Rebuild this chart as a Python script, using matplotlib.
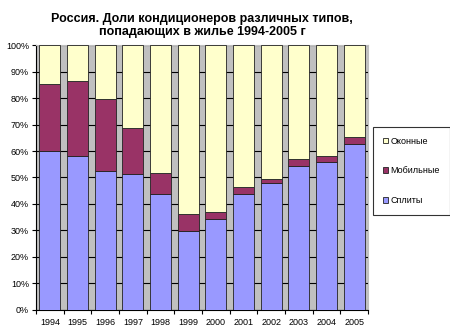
import numpy as np
import matplotlib
matplotlib.use('Agg')
import matplotlib.pyplot as plt
from matplotlib.ticker import PercentFormatter

# доли кондиционеров по годам, %
years = ['1994', '1995', '1996', '1997', '1998', '1999', '2000',
         '2001', '2002', '2003', '2004', '2005']
splits = [59.9, 58.2, 52.3, 51.2, 43.8, 29.9, 34.2, 43.7, 47.9, 54.5, 55.8, 62.7]
mobile = [25.5, 28.2, 27.5, 17.3, 7.9, 6.5, 2.6, 2.8, 1.7, 2.5, 2.4, 2.6]
window = [100 - s - m for s, m in zip(splits, mobile)]

plt.rcParams['font.family'] = ['Liberation Sans', 'DejaVu Sans']

fig = plt.figure(figsize=(4.5, 3.29), dpi=100)
ax = fig.add_axes([0.08, 0.058, 0.738, 0.805])
ax.set_facecolor('#C0C0C0')

x = np.arange(len(years))
w = 0.76
b1 = ax.bar(x, splits, w, color='#9999FF', edgecolor='#222222', linewidth=0.6,
            label='Сплиты', zorder=3)
b2 = ax.bar(x, mobile, w, bottom=splits, color='#993366', edgecolor='#222222',
            linewidth=0.6, label='Мобильные', zorder=3)
bottoms = [s + m for s, m in zip(splits, mobile)]
b3 = ax.bar(x, window, w, bottom=bottoms, color='#FFFFCC', edgecolor='#222222',
            linewidth=0.6, label='Оконные', zorder=3)

ax.set_xlim(-0.5, len(years) - 0.5)
ax.set_ylim(0, 100)
ax.set_yticks(range(0, 101, 10))
ax.yaxis.set_major_formatter(PercentFormatter(decimals=0))
ax.grid(axis='y', color='black', linewidth=0.8, zorder=1)

ax.set_xticks(x)
ax.set_xticklabels(years)
ax.set_xticks(np.arange(-0.5, len(years)), minor=True)
ax.tick_params(axis='x', which='major', length=0, labelsize=6.5, pad=6)
ax.tick_params(axis='x', which='minor', length=3, width=0.8)
ax.tick_params(axis='y', labelsize=6.5, length=3, width=0.8, pad=2)

for side in ['top', 'right']:
    ax.spines[side].set_color('#C0C0C0')
ax.spines['left'].set_linewidth(0.8)
ax.spines['bottom'].set_linewidth(0.8)

ax.set_title('Россия. Доли кондиционеров различных типов,\nпопадающих в жилье 1994-2005 г',
             fontsize=9, fontweight='bold', pad=7)

leg = fig.legend(handles=[b3, b2, b1], loc='upper left',
                 bbox_to_anchor=(0.828, 0.615), fontsize=6.5, frameon=True,
                 fancybox=False, edgecolor='black', handlelength=0.6,
                 handleheight=0.6, labelspacing=2.3, borderpad=1.1,
                 borderaxespad=0, handletextpad=0.3)
leg.get_frame().set_linewidth(0.8)

fig.savefig('out.png', dpi=100)
